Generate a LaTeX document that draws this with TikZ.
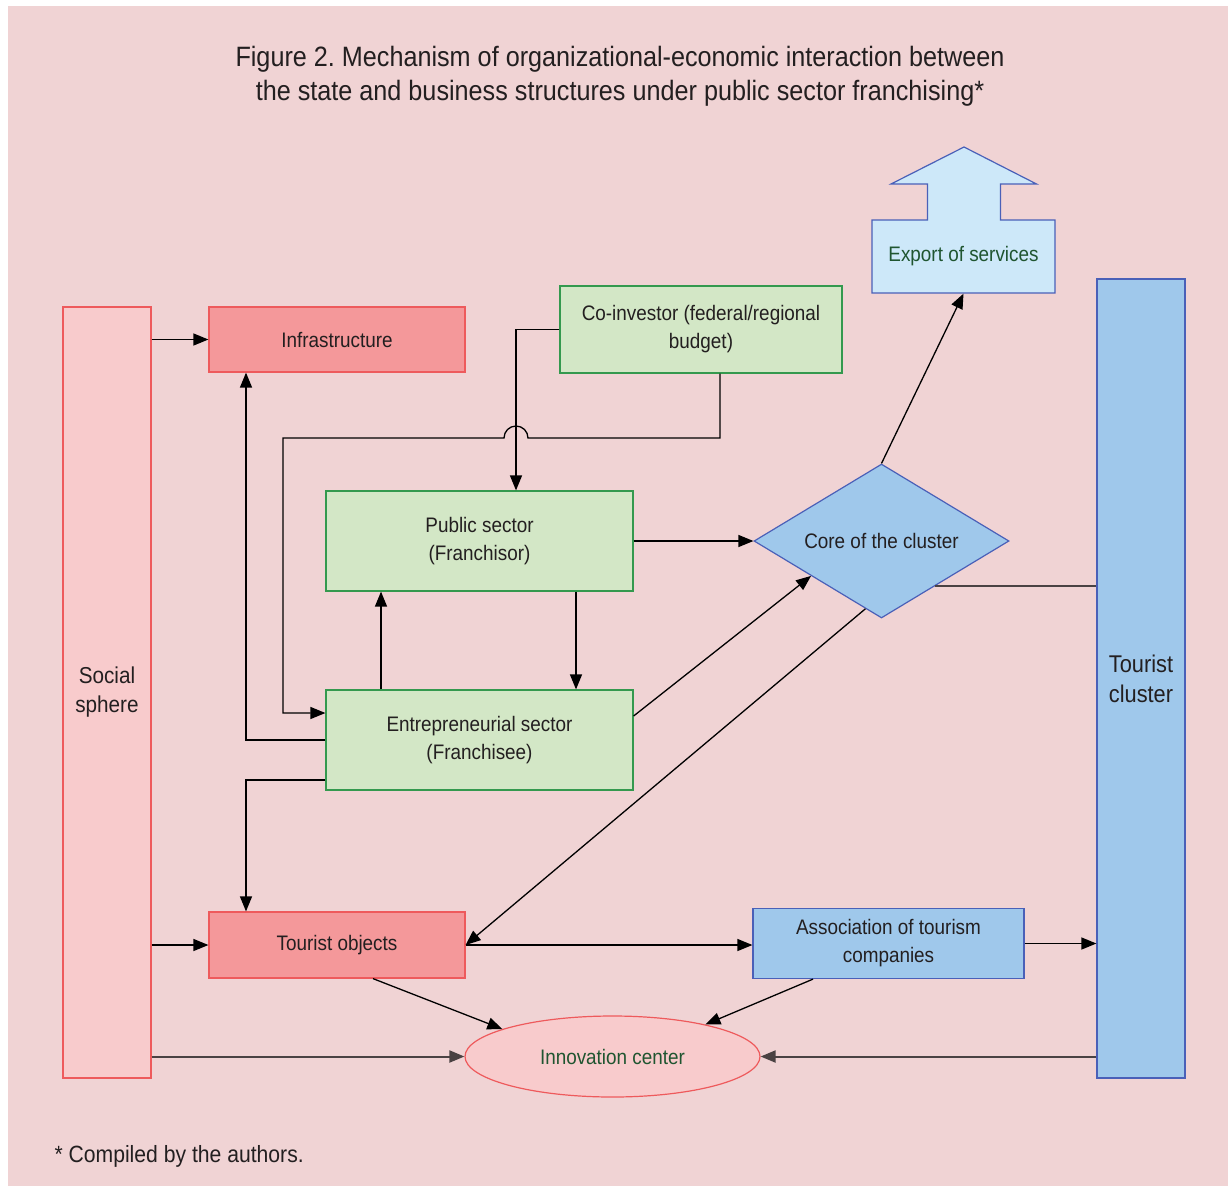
\documentclass[tikz,border=0pt]{standalone}
\usepackage{fontspec}
\setmainfont[FakeStretch=0.9]{Liberation Sans}
\usetikzlibrary{arrows.meta,shapes.geometric,calc}
\frenchspacing
\definecolor{bgpink}{HTML}{F0D3D4}
\definecolor{txt}{HTML}{231F20}
\definecolor{darkgreen}{HTML}{1F5530}
\definecolor{socfill}{HTML}{F8CBCC}
\definecolor{redline}{HTML}{EE5A5C}
\definecolor{salmon}{HTML}{F4989A}
\definecolor{gfill}{HTML}{D3E7C6}
\definecolor{gline}{HTML}{34994E}
\definecolor{bfill}{HTML}{9FC8EB}
\definecolor{bline}{HTML}{4A60B8}
\definecolor{lbfill}{HTML}{CDE8F9}
\definecolor{greyline}{HTML}{4A4243}
\tikzset{
  box/.style={rectangle, inner sep=0pt, align=center, text=txt, line width=1.2pt,
    font=\fontsize{21}{28}\selectfont},
  redbox/.style={box, fill=salmon, draw=redline},
  greenbox/.style={box, fill=gfill, draw=gline},
  bluebox/.style={box, fill=bfill, draw=bline},
  arr/.style={line width=1.3pt, draw=black, -{Triangle[length=15pt,width=12pt]}},
  thickline/.style={line width=2pt, draw=greyline},
}
\begin{document}
\begin{tikzpicture}[x=1pt,y=-1pt]
\useasboundingbox (0,0) rectangle (1228,1186);
\fill[white] (0,0) rectangle (1228,1186);
\fill[bgpink] (8,6) rectangle (1228,1186);

% title
\node[text=txt, align=center, font=\fontsize{28}{34}\selectfont] (title) at (620,76)
  {Figure 2. Mechanism of organizational-economic interaction between\\the state and business structures under public sector franchising*};
\node[text=txt, anchor=west, font=\fontsize{23.5}{28}\selectfont] (foot) at (51,1156) {* Compiled by the authors.};

% nodes
\node[box, fill=socfill, draw=redline, minimum width=88pt, minimum height=771pt,
  font=\fontsize{23}{29}\selectfont] (soc) at (107,692.5) {Social\\sphere};
\node[redbox, minimum width=256pt, minimum height=65pt] (infra) at (337,339.5) {Infrastructure};
\node[greenbox, minimum width=282pt, minimum height=87pt] (coinv) at (701,329.5) {Co-investor (federal/regional\\budget)};
\node[greenbox, minimum width=307pt, minimum height=100pt] (pub) at (479.5,541) {Public sector\\(Franchisor)};
\node[greenbox, minimum width=307pt, minimum height=100pt] (ent) at (479.5,740) {Entrepreneurial sector\\(Franchisee)};
\node[bluebox, diamond, shape aspect=1.65, minimum width=255pt, minimum height=154pt] (core) at (881.5,541) {Core of the cluster};
\node[bluebox, minimum width=88pt, minimum height=799pt,
  font=\fontsize{24.2}{30}\selectfont] (clus) at (1141,678.5) {Tourist\\cluster};
\node[redbox, minimum width=256pt, minimum height=66pt] (tobj) at (337,945) {Tourist objects};
\node[bluebox, minimum width=271pt, minimum height=70pt] (assoc) at (888.5,943.5) {Association of tourism\\companies};
\node[box, ellipse, fill=socfill, draw=redline, text=darkgreen, minimum width=295pt, minimum height=81pt] (innov) at (612.5,1056.5) {Innovation center};

% export arrow shape
\draw[bline, fill=lbfill, line width=1.2pt] (872,293) -- (872,220) -- (927.5,220) -- (927.5,184) -- (891,184) -- (964,147)
  -- (1036.5,184) -- (1000.5,184) -- (1000.5,220) -- (1055,220) -- (1055,293) -- cycle;
\node[box, text=darkgreen, minimum width=183pt, minimum height=73pt] (exp) at (963.5,256.5) {Export of services};

% helper coordinates
\coordinate (x516) at (516,0);
\coordinate (x720) at (720,0);
\coordinate (x246) at (246,0);
\coordinate (x381) at (381,0);
\coordinate (x576) at (576,0);
\coordinate (x373) at (373,0);
\coordinate (x813) at (813,0);
\coordinate (y740) at (0,740);
\coordinate (y780) at (0,780);
\coordinate (y716) at (0,716);
\coordinate (ja) at (528,438);
\coordinate (bl) at (283,438);
\coordinate (bl2) at (283,713);

% connectors
\draw[arr] (soc.east |- infra.west) -- (infra.west);
\draw[arr] (soc.east |- tobj.west) -- (tobj.west);
\draw[arr, thickline] (soc.east |- innov.west) -- (innov.west);
\draw[arr] (coinv.west) -- (coinv.west -| x516) -- (pub.north -| x516);
\draw[arr] (coinv.south -| x720) |- (ja) arc[start angle=0, end angle=180, radius=12pt] -- (bl) -- (bl2) -- (ent.west |- bl2);
\draw[arr] (ent.west |- y740) -| (infra.south -| x246);
\draw[arr] (ent.west |- y780) -| (tobj.north -| x246);
\draw[arr] (ent.north -| x381) -- (pub.south -| x381);
\draw[arr] (pub.south -| x576) -- (ent.north -| x576);
\draw[arr] (pub.east) -- (core.west);
\draw[arr] (ent.east |- y716) -- ($(core.west)!0.45!(core.south)$);
\draw[arr] ($(core.west)!0.874!(core.south)$) -- (tobj.east);
\draw[arr] (core.north) -- (exp.south);
\draw[thickline] ($(core.east)!0.584!(core.south)$) coordinate (cr) -- (clus.west |- cr);
\draw[arr] (tobj.east) -- (assoc.west |- tobj.east);
\draw[arr] (assoc.east) -- (clus.west |- assoc.east);
\draw[arr] (tobj.south -| x373) -- (innov.166);
\draw[arr] (assoc.south -| x813) -- (innov.19);
\draw[arr, thickline] (clus.west |- innov.east) -- (innov.east);
\end{tikzpicture}
\end{document}
